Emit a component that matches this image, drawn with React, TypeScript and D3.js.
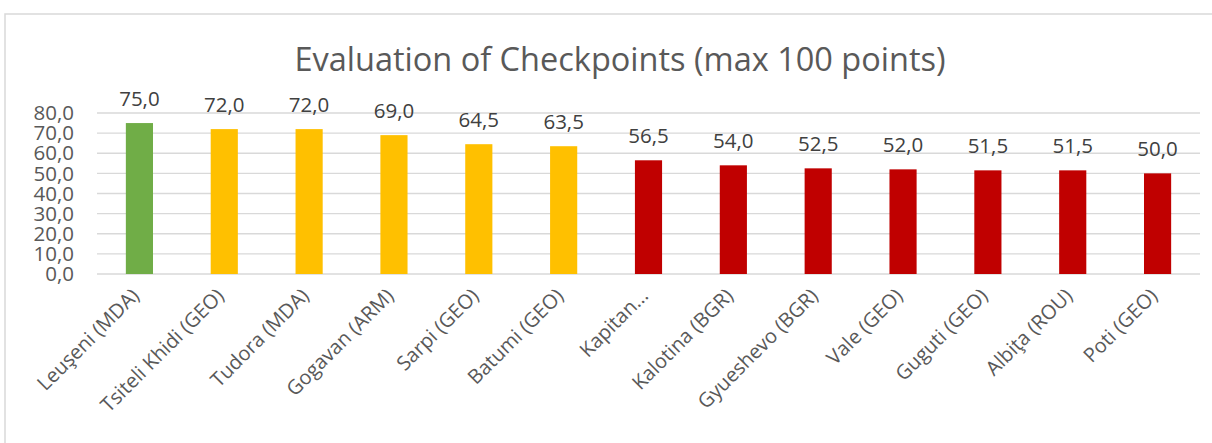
import React from "react";
import * as d3 from "d3";

const categories = [
  "Leuşeni (MDA)",
  "Tsiteli Khidi (GEO)",
  "Tudora (MDA)",
  "Gogavan (ARM)",
  "Sarpi (GEO)",
  "Batumi (GEO)",
  "Kapitan...",
  "Kalotina (BGR)",
  "Gyueshevo (BGR)",
  "Vale (GEO)",
  "Guguti (GEO)",
  "Albiţa (ROU)",
  "Poti (GEO)",
];
const values = [75.0, 72.0, 72.0, 69.0, 64.5, 63.5, 56.5, 54.0, 52.5, 52.0, 51.5, 51.5, 50.0];
const barColors = [
  "#70AD47", "#FFC000", "#FFC000", "#FFC000", "#FFC000", "#FFC000",
  "#C00000", "#C00000", "#C00000", "#C00000", "#C00000", "#C00000", "#C00000",
];
const yTicks = [0, 10, 20, 30, 40, 50, 60, 70, 80];
const title = "Evaluation of Checkpoints (max 100 points)";

const W = 1212;
const H = 443;
const left = 97;
const right = 1200;
const top = 113;
const bottom = 274;
const font = "'Open Sans', 'Noto Sans', sans-serif";

const fmt = (v: number) => v.toFixed(1).replace(".", ",");

export default function App() {
  const x = d3.scaleBand<string>().domain(categories).range([left, right]).paddingInner(0.68).paddingOuter(0.34);
  const y = d3.scaleLinear().domain([0, 80]).range([bottom, top]);
  return (
    <svg width={W} height={H} style={{ position: "absolute", left: 0, top: 0, background: "#fff" }}>
      <rect x={5} y={14} width={W + 20} height={H + 20} fill="#fff" stroke="#D9D9D9" strokeWidth={1.5} />
      <text x={620} y={71} textAnchor="middle" fontFamily={font} fontSize={32.5} fill="#595959">
        {title}
      </text>
      {yTicks.map((t) => (
        <g key={t}>
          <line x1={left} x2={right} y1={y(t)} y2={y(t)} stroke="#D9D9D9" strokeWidth={1.3} />
          <text x={74} y={y(t)} dy="0.35em" textAnchor="end" fontFamily={font} fontSize={20.5} fill="#595959">
            {fmt(t)}
          </text>
        </g>
      ))}
      {categories.map((c, i) => {
        const bx = x(c)!;
        const cx = bx + x.bandwidth() / 2;
        return (
          <g key={c}>
            <rect x={bx} y={y(values[i])} width={x.bandwidth()} height={bottom - y(values[i])} fill={barColors[i]} />
            <text x={cx} y={y(values[i]) - 17} textAnchor="middle" fontFamily={font} fontSize={20.5} fill="#404040">
              {fmt(values[i])}
            </text>
            <text
              transform={`translate(${cx + 1},${297}) rotate(-45)`}
              textAnchor="end"
              fontFamily={font}
              fontSize={20}
              fill="#595959"
            >
              {c}
            </text>
          </g>
        );
      })}
    </svg>
  );
}
